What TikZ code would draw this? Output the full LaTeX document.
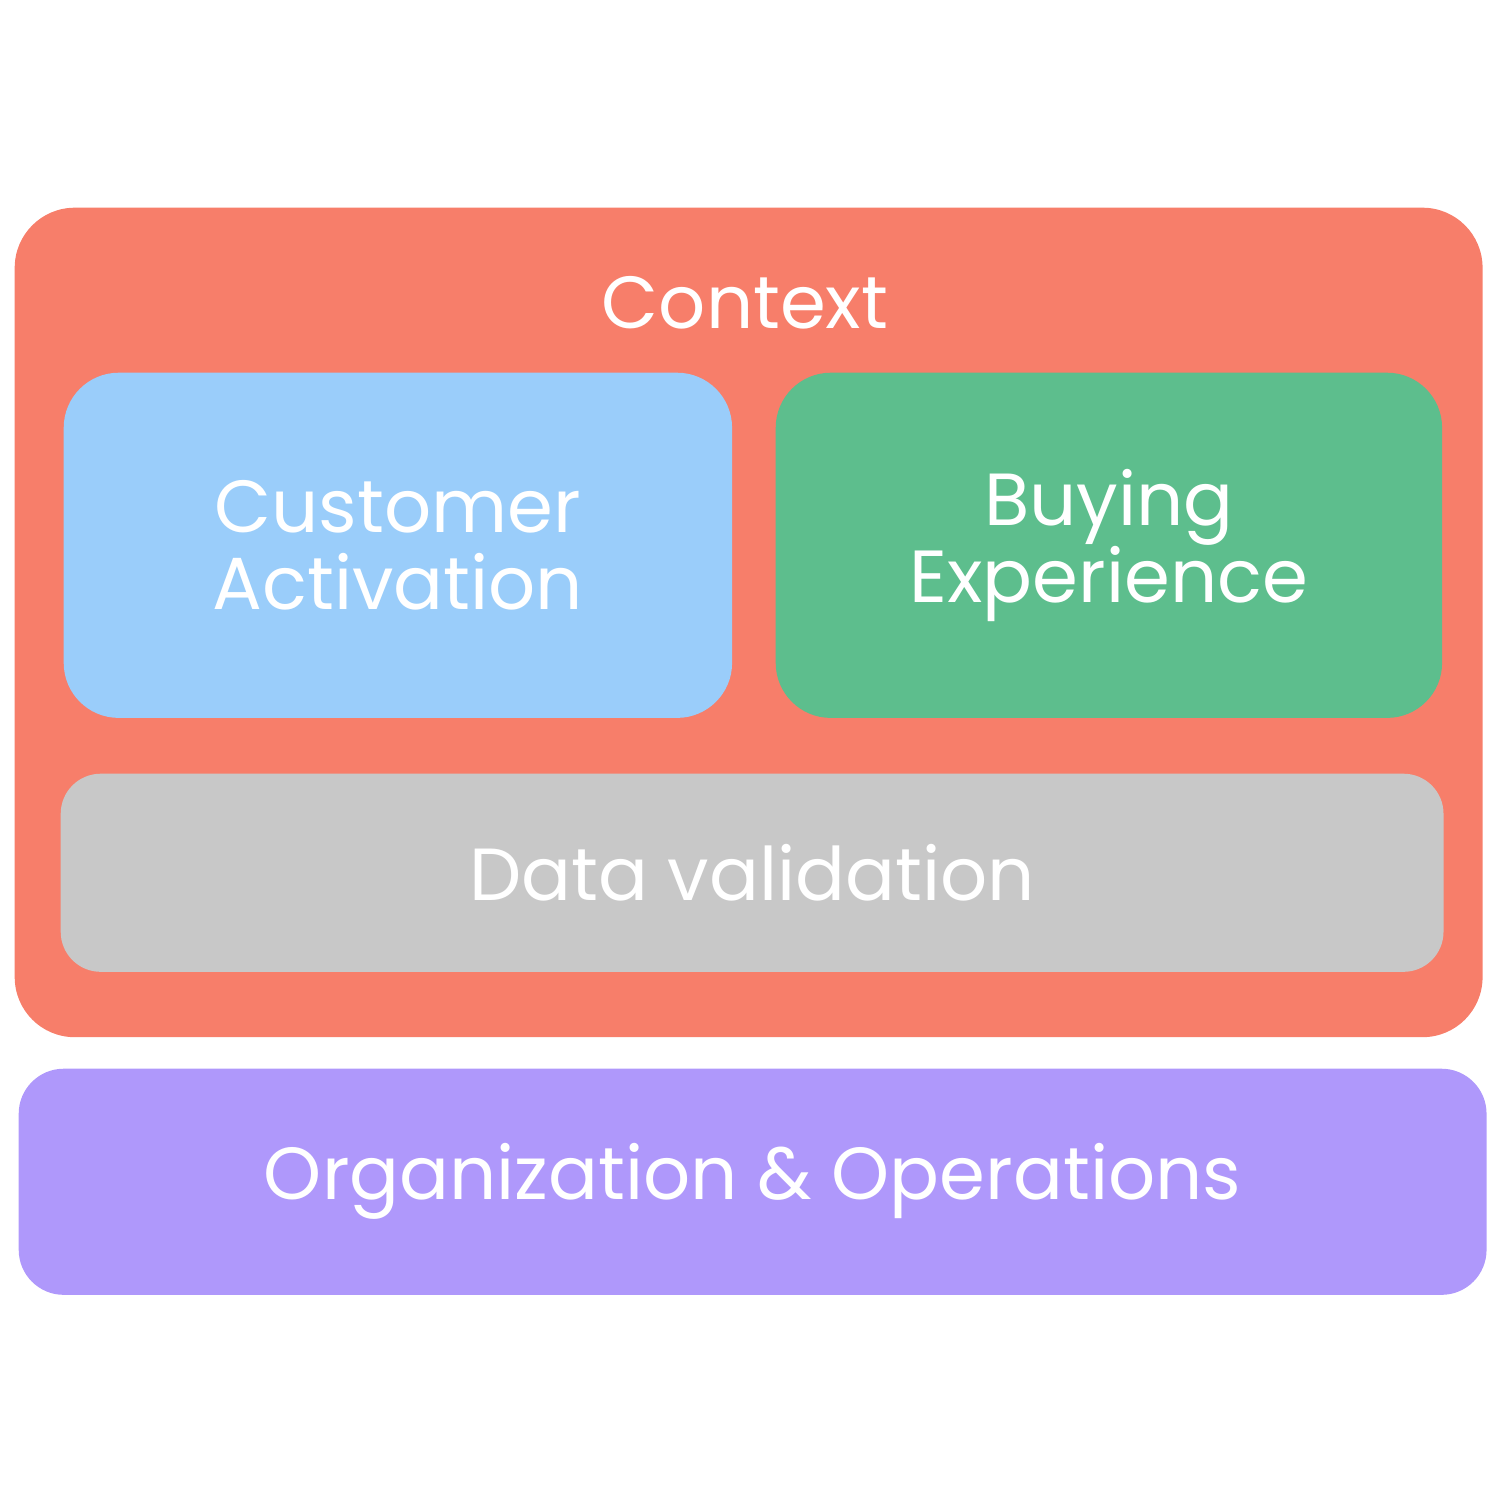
\documentclass[tikz,border=0pt]{standalone}
\usepackage{fontspec}
\setmainfont{Poppins}
\usetikzlibrary{positioning}
\definecolor{ctxred}{HTML}{F77E6A}
\definecolor{custblue}{HTML}{9ACDFA}
\definecolor{buygreen}{HTML}{5DBE8D}
\definecolor{datagrey}{HTML}{C8C8C8}
\definecolor{orgpurple}{HTML}{AF98FB}

\begin{document}
\begin{tikzpicture}[x=0.01cm, y=-0.01cm,
	box/.style={rounded corners=0.55cm, anchor=north west, inner sep=0pt, text=white, align=center, font=\fontsize{21}{22}\selectfont},
	lbl/.style={text=white, font=\fontsize{21}{22}\selectfont}]
		\useasboundingbox (0,0) rectangle (1500,1500);
		
		\node[box, fill=ctxred, rounded corners=0.6cm, minimum width=14.67cm, minimum height=8.29cm] (ctx) at (14,207) {};
		\node[lbl] (ctxlbl) at (745,303) {Context};
		
		\node[box, fill=custblue, minimum width=6.68cm, minimum height=3.45cm] (cust) at (63,372) {Customer\\Activation};
		\node[box, fill=buygreen, minimum width=6.66cm, minimum height=3.45cm] (buy) at (775,372) {Buying\\Experience};
		\node[box, fill=datagrey, rounded corners=0.4cm, minimum width=13.82cm, minimum height=1.98cm] (data) at (60,773) {Data validation};
		
		\node[box, fill=orgpurple, rounded corners=0.45cm, minimum width=14.67cm, minimum height=2.26cm] (org) at (18,1068) {Organization \& Operations};
	\end{tikzpicture}
\end{document}
